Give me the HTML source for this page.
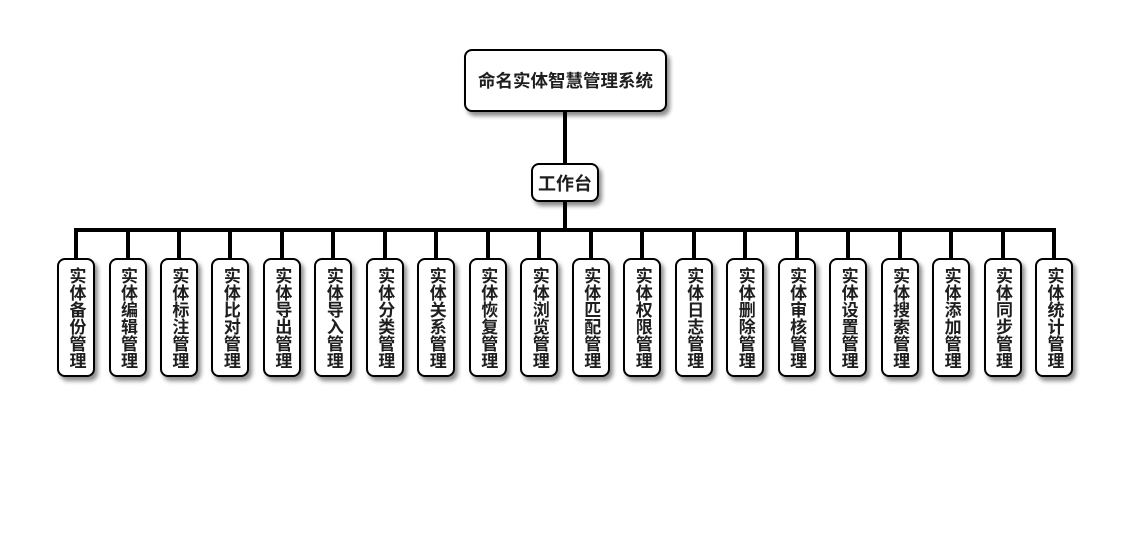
<!DOCTYPE html>
<html>
<head>
<meta charset="utf-8">
<style>
html,body{margin:0;padding:0;background:#fff;}
body{width:1130px;height:560px;position:relative;overflow:hidden;font-family:"Liberation Sans","Noto Sans CJK SC",sans-serif;}
.box{position:absolute;box-sizing:border-box;border:2px solid #000;background:#fff;border-radius:8px;box-shadow:3px 4px 4px rgba(0,0,0,0.45);color:#1e1e1e;font-weight:bold;display:flex;align-items:center;justify-content:center;}
.line{position:absolute;background:#000;}
.v{writing-mode:vertical-rl;text-orientation:upright;font-size:17px;line-height:17px;letter-spacing:0;}
</style>
</head>
<body>
<div class="line" style="left:563px;top:110px;width:4px;height:55px;"></div>
<div class="line" style="left:563px;top:200px;width:4px;height:30px;"></div>
<div class="line" style="left:74px;top:228px;width:982px;height:4px;"></div>

<div class="box" style="left:464px;top:49px;width:203px;height:63px;font-size:17.5px;">命名实体智慧管理系统</div>
<div class="box" style="left:531px;top:163px;width:68px;height:39px;font-size:18px;">工作台</div>

<div id="kids"></div>
<script>
var names=["实体备份管理","实体编辑管理","实体标注管理","实体比对管理","实体导出管理","实体导入管理","实体分类管理","实体关系管理","实体恢复管理","实体浏览管理","实体匹配管理","实体权限管理","实体日志管理","实体删除管理","实体审核管理","实体设置管理","实体搜索管理","实体添加管理","实体同步管理","实体统计管理"];
var h="";
for(var i=0;i<names.length;i++){
  var c=76+i*(1054-76)/19;
  h+='<div class="line" style="left:'+(c-2).toFixed(1)+'px;top:230px;width:4px;height:30px;"></div>';
  h+='<div class="box" style="left:'+(c-19).toFixed(1)+'px;top:258px;width:38px;height:119px;"><span class="v">'+names[i]+'</span></div>';
}
document.getElementById("kids").innerHTML=h;
</script>
</body>
</html>
